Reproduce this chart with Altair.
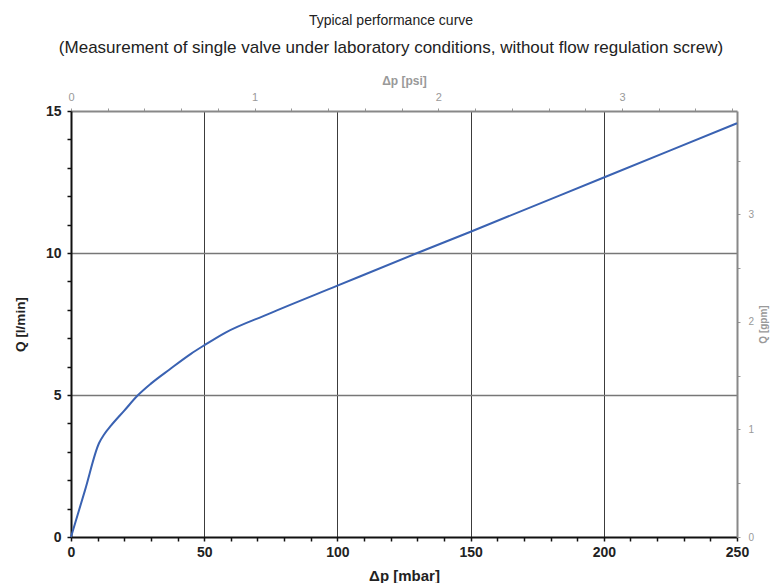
import altair as alt
import pandas as pd

# ---- data ----
dp_mbar = [0, 5.3, 10.5, 12.5, 15, 20, 25, 30, 37, 45, 50, 58, 74, 100, 130, 150, 200, 250]
q_lmin = [0, 1.66, 3.3, 3.62, 3.92, 4.45, 4.98, 5.4, 5.9, 6.45, 6.75, 7.2, 7.85, 8.85, 10.0, 10.75, 12.66, 14.57]

mbar_ticks = [0, 10, 20, 30, 40, 50, 60, 70, 80, 90, 100, 110, 120, 130, 140, 150,
              160, 170, 180, 190, 200, 210, 220, 230, 240, 250]
lmin_ticks = [0, 1, 2, 3, 4, 5, 6, 7, 8, 9, 10, 11, 12, 13, 14, 15]
psi_ticks = [0, 0.2, 0.4, 0.6, 0.8, 1, 1.2, 1.4, 1.6, 1.8, 2, 2.2, 2.4, 2.6, 2.8, 3,
             3.2, 3.4, 3.6]
gpm_ticks = [0, 0.5, 1, 1.5, 2, 2.5, 3, 3.5]

mbar_domain = [0, 250]
lmin_domain = [0, 15]
psi_domain = [0, 3.626]     # 250 mbar in psi
gpm_domain = [0, 3.9626]    # 15 l/min in US gpm

title_text = "Typical performance curve"
subtitle_text = "(Measurement of single valve under laboratory conditions, without flow regulation screw)"

FONT = "Liberation Sans"

df = pd.DataFrame({"dp": dp_mbar, "q": q_lmin})
df2 = pd.DataFrame({"psi": psi_domain, "gpm": gpm_domain})

line = alt.Chart(df).mark_line(color="#3a62b2", strokeWidth=2, interpolate="monotone").encode(
    x=alt.X("dp:Q", scale=alt.Scale(domain=mbar_domain, nice=False, zero=True),
            axis=alt.Axis(orient="bottom", title="Δp [mbar]", values=mbar_ticks, format=".0f",
                          labelExpr="datum.value % 50 === 0 ? datum.label : ''",
                          labelOverlap=False, labelFlush=False,
                          labelFont=FONT, labelFontSize=14, labelFontWeight="bold", labelColor="#222",
                          titleFont=FONT, titleFontSize=15, titleFontWeight="bold", titleColor="#222",
                          domainColor="#111", domainWidth=2,
                          tickColor="#111", tickWidth=1.5, tickSize=4,
                          labelPadding=4, titlePadding=9,
                          grid=True, gridColor="#3c3c3c", gridWidth=1,
                          gridOpacity={"condition": {"test": "datum.value % 50 === 0 && datum.value > 0 && datum.value < 250", "value": 1}, "value": 0})),
    y=alt.Y("q:Q", scale=alt.Scale(domain=lmin_domain, nice=False, zero=True),
            axis=alt.Axis(orient="left", title="Q [l/min]", values=lmin_ticks, format=".0f",
                          labelExpr="datum.value % 5 === 0 ? datum.label : ''",
                          labelOverlap=False, labelFlush=False,
                          labelFont=FONT, labelFontSize=14, labelFontWeight="bold", labelColor="#222",
                          titleFont=FONT, titleFontSize=13.5, titleFontWeight="bold", titleColor="#222",
                          domainColor="#111", domainWidth=2,
                          tickColor="#111", tickWidth=1.5, tickSize=4,
                          labelPadding=6, titlePadding=18,
                          grid=True, gridColor="#777", gridWidth=1.5,
                          gridOpacity={"condition": {"test": "datum.value % 5 === 0 && datum.value > 0 && datum.value < 15", "value": 1}, "value": 0})),
)

ghost = alt.Chart(df2).mark_point(opacity=0).encode(
    x=alt.X("psi:Q", scale=alt.Scale(domain=psi_domain, nice=False, zero=True),
            axis=alt.Axis(orient="top", title="Δp [psi]", values=psi_ticks, format=".0f",
                          labelExpr="datum.value % 1 === 0 ? datum.label : ''",
                          labelOverlap=False, labelFlush=False,
                          labelFont=FONT, labelFontSize=11, labelColor="#999",
                          titleFont=FONT, titleFontSize=12, titleFontWeight="bold", titleColor="#999",
                          domainColor="#888", domainWidth=2,
                          tickColor="#999", tickWidth=1, tickSize=3,
                          labelPadding=6, titlePadding=4, grid=False)),
    y=alt.Y("gpm:Q", scale=alt.Scale(domain=gpm_domain, nice=False, zero=True),
            axis=alt.Axis(orient="right", title="Q [gpm]", values=gpm_ticks, format=".0f",
                          labelExpr="datum.value % 1 === 0 ? datum.label : ''",
                          labelOverlap=False, labelFlush=False,
                          labelFont=FONT, labelFontSize=10, labelColor="#999",
                          titleFont=FONT, titleFontSize=10, titleFontWeight="bold", titleColor="#999",
                          titleAngle=270, titleBaseline="top",
                          domainColor="#888", domainWidth=2,
                          tickColor="#999", tickWidth=1, tickSize=3,
                          labelPadding=8, titlePadding=5, grid=False)),
)

chart = alt.layer(line, ghost).resolve_scale(x="independent", y="independent").properties(
    width=666, height=426,
    padding={"left": 5, "right": 5, "top": 6, "bottom": 0},
    title=alt.TitleParams(text=title_text, subtitle=subtitle_text, anchor="middle", frame="bounds",
                          font=FONT, fontSize=14, fontWeight="normal", color="#222",
                          subtitleFont=FONT, subtitleFontSize=17, subtitleColor="#222",
                          subtitlePadding=12, offset=18),
).configure_view(stroke=None)

chart.save("out.html", embed_options={"renderer": "svg", "actions": False})
